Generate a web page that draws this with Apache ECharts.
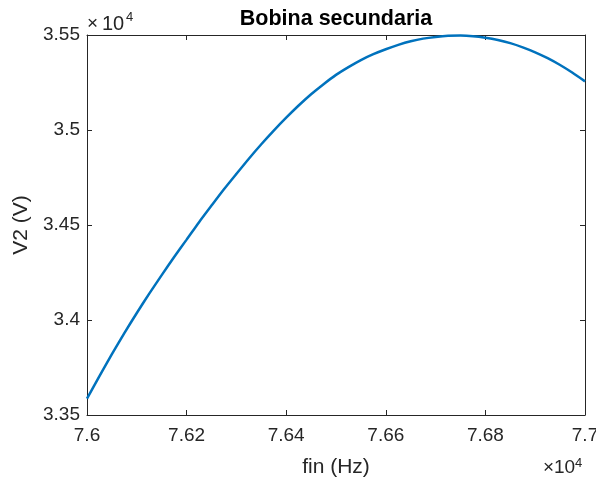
<!DOCTYPE html>
<html>
<head>
<meta charset="utf-8">
<script src="https://cdn.jsdelivr.net/npm/echarts@6/dist/echarts.min.js"></script>
<style>
html,body{margin:0;padding:0;background:#fff;overflow:hidden;}
#chart{width:596px;height:479px;}
</style>
</head>
<body>
<div id="chart"></div>
<script>
// Data
var freqHz = [76000, 76025, 76050, 76075, 76100, 76125, 76150, 76175, 76200, 76225, 76250,
              76275, 76300, 76325, 76350, 76375, 76400, 76425, 76450, 76475, 76500,
              76525, 76550, 76575, 76600, 76625, 76650, 76675, 76700, 76725, 76750,
              76775, 76800, 76825, 76850, 76875, 76900, 76925, 76950, 76975, 77000];
var v2Volts = [33586, 33705, 33820, 33931, 34037, 34139, 34236, 34332, 34423, 34515, 34602,
               34688, 34769, 34849, 34925, 34997, 35065, 35129, 35188, 35241, 35290,
               35331, 35368, 35399, 35425, 35448, 35467, 35481, 35490, 35496, 35497,
               35494, 35486, 35474, 35457, 35435, 35409, 35378, 35342, 35301, 35256];
var xTicks = [76000, 76200, 76400, 76600, 76800, 77000];
var yTicks = [33500, 34000, 34500, 35000, 35500];
var titleText = 'Bobina secundaria';
var xName = 'fin (Hz)';
var yName = 'V2 (V)';
var expTimes = '\u00d7';
var expBase = '10';
var expPow = '4';

var FONT = '"Liberation Sans", Arial, Helvetica, sans-serif';
var AX = '#262626';
function fmt(v){ return String(parseFloat((v/10000).toFixed(4))); }

var chart = echarts.init(document.getElementById('chart'), null, {renderer:'canvas'});
var axisCommon = {
  type: 'value',
  axisLine: {show: true, lineStyle: {color: AX, width: 1}},
  axisTick: {show: true, inside: true, length: 5, lineStyle: {color: AX, width: 1}},
  splitLine: {show: false}
};
var data = freqHz.map(function(f, i){ return [f, v2Volts[i]]; });

function txt(t, x, y, size, extra){
  return {type: 'text', x: x, y: y, silent: true,
    style: Object.assign({text: t, font: size + 'px ' + FONT, fill: AX, align: 'left', verticalAlign: 'middle'}, extra || {})};
}

chart.setOption({
  animation: false,
  backgroundColor: '#ffffff',
  grid: {left: 87, right: 11, top: 35, bottom: 64, containLabel: false, outerBoundsMode: 'none'},
  xAxis: [
    Object.assign({}, axisCommon, {
      position: 'bottom', min: xTicks[0], max: xTicks[xTicks.length-1], interval: 200,
      name: xName, nameLocation: 'middle', nameGap: 42,
      nameTextStyle: {fontFamily: FONT, fontSize: 21, color: AX},
      axisLabel: {formatter: fmt, margin: 11, fontFamily: FONT, fontSize: 19, color: AX}
    }),
    Object.assign({}, axisCommon, {
      position: 'top', min: xTicks[0], max: xTicks[xTicks.length-1], interval: 200,
      axisLabel: {show: false}
    })
  ],
  yAxis: [
    Object.assign({}, axisCommon, {
      position: 'left', min: yTicks[0], max: yTicks[yTicks.length-1], interval: 500,
      name: yName, nameLocation: 'middle', nameGap: 44,
      nameTextStyle: {fontFamily: FONT, fontSize: 21, color: AX},
      axisLabel: {formatter: fmt, margin: 7, fontFamily: FONT, fontSize: 19, color: AX}
    }),
    Object.assign({}, axisCommon, {
      position: 'right', min: yTicks[0], max: yTicks[yTicks.length-1], interval: 500,
      axisLabel: {show: false}
    })
  ],
  series: [{
    type: 'line', xAxisIndex: 0, yAxisIndex: 0, data: data,
    smooth: 0.2, showSymbol: false, symbol: 'none',
    lineStyle: {color: '#0072BD', width: 2.5},
    clip: true
  }],
  graphic: [
    {type: 'text', x: 336, y: 19, silent: true,
      style: {text: titleText, font: 'bold 21.5px ' + FONT, fill: '#000', align: 'center', verticalAlign: 'middle'}},
    txt(expTimes, 87, 24, 19),
    txt(expBase, 102, 24, 20),
    txt(expPow, 126, 17, 13),
    txt(expTimes, 543, 468, 19),
    txt(expBase, 554, 468, 19),
    txt(expPow, 575, 463, 13)
  ]
});
</script>
</body>
</html>
